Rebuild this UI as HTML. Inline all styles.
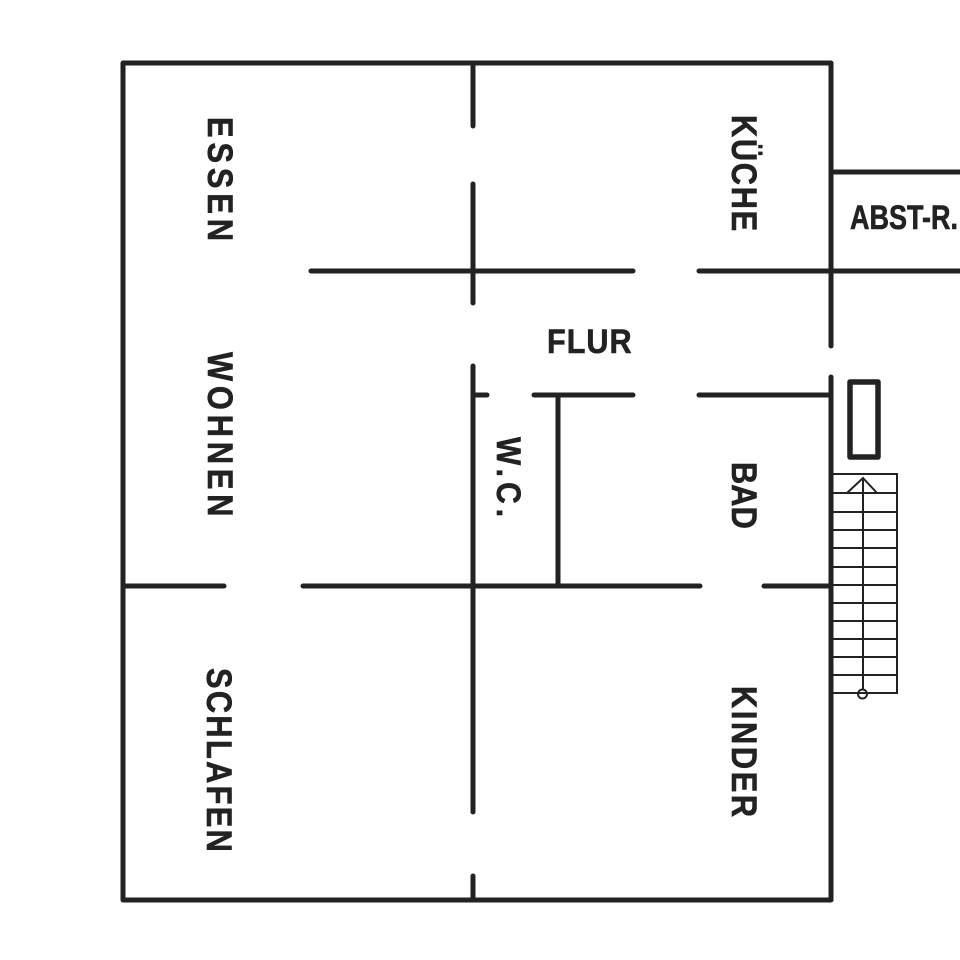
<!DOCTYPE html>
<html>
<head>
<meta charset="utf-8">
<style>
html,body{margin:0;padding:0;background:#fff;width:960px;height:960px;overflow:hidden}
svg{display:block}
text{font-family:"Liberation Sans",sans-serif;font-weight:700;fill:#222;stroke:#222;stroke-width:.6}
</style>
</head>
<body>
<svg width="960" height="960" viewBox="0 0 960 960" xmlns="http://www.w3.org/2000/svg">
<rect width="960" height="960" fill="#fff"/>
<g stroke="#222" stroke-width="5" fill="none" stroke-linecap="round" stroke-linejoin="round">
  <path d="M831 346V63H123V900H831V377"/>
  <path d="M473 65V126M473 184V303M473 366V812M473 876V898"/>
  <path d="M311 271H633M699 271H960M831 172H960"/>
  <path d="M473 395H487M534 395H633M699 395H831"/>
  <path d="M558 395V585"/>
  <path d="M123 586H224M303 586H700M764 586H831"/>
  <rect x="850" y="382" width="28" height="75" stroke-width="5.500"/>
</g>
<g stroke="#222" stroke-width="2" fill="none">
  <path d="M833 474H897V693H833"/>
  <path d="M833 493H897M833 512H897M833 530H897M833 548H897M833 567H897M833 585H897M833 603H897M833 621H897M833 639H897M833 657H897M833 675H897"/>
  <path d="M863 478V690"/>
  <path d="M847 493L863 478L877 493"/>
  <circle cx="862.500" cy="694" r="4.500"/>
</g>
<g font-size="35">
  <text transform="translate(208,117) rotate(90) scale(.88,1)" textLength="141" lengthAdjust="spacing">ESSEN</text>
  <text transform="translate(208,352) rotate(90) scale(.88,1)" textLength="187" lengthAdjust="spacing">WOHNEN</text>
  <text transform="translate(207,668) rotate(90) scale(.88,1)" textLength="209" lengthAdjust="spacing">SCHLAFEN</text>
  <text transform="translate(732,115) rotate(90) scale(.88,1)" textLength="132" lengthAdjust="spacing">KÜCHE</text>
  <text transform="translate(732,462) rotate(90) scale(.88,1)" textLength="76" lengthAdjust="spacing">BAD</text>
  <text transform="translate(732,686) rotate(90) scale(.88,1)" textLength="149" lengthAdjust="spacing">KINDER</text>
  <text transform="translate(497,437) rotate(90) scale(.88,1)" textLength="91" lengthAdjust="spacing" font-size="34">W.C.</text>
</g>
<g font-size="34">
  <text transform="translate(547,353) scale(.9,1)" textLength="94" lengthAdjust="spacing">FLUR</text>
  <text x="850" y="229" textLength="108" lengthAdjust="spacingAndGlyphs">ABST-R.</text>
</g>
</svg>
</body>
</html>
